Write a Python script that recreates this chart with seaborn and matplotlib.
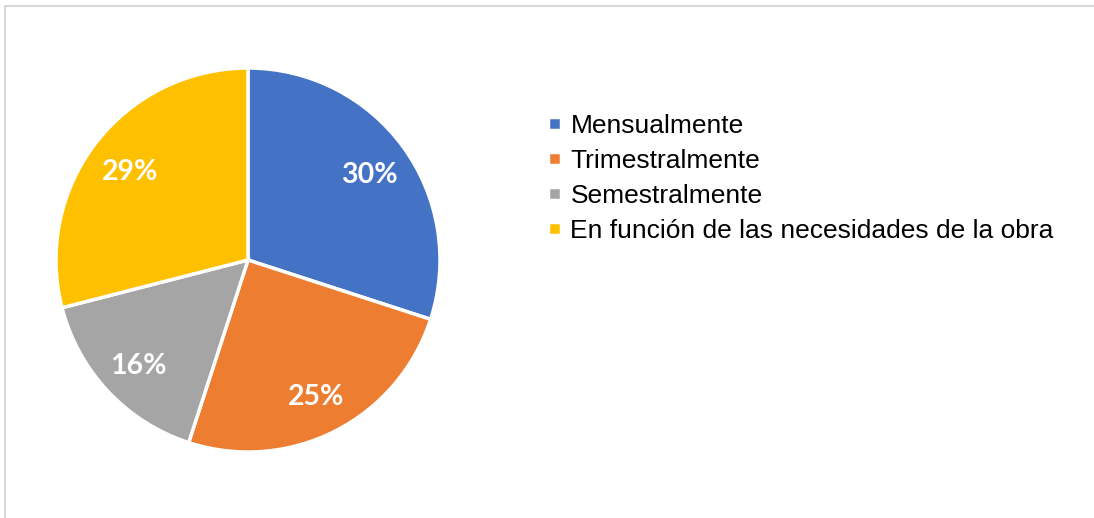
import matplotlib
matplotlib.use("Agg")
import matplotlib.pyplot as plt
import matplotlib.transforms as mtransforms
from matplotlib.lines import Line2D
import seaborn as sns

categorias = ["Mensualmente", "Trimestralmente", "Semestralmente",
              "En función de las necesidades de la obra"]
porcentajes = [30, 25, 16, 29]
colores = ["#4472C4", "#ED7D31", "#A5A5A5", "#FFC000"]

sns.set_theme(style="white")
plt.rcParams["font.family"] = ["Liberation Sans", "DejaVu Sans"]
palette = sns.color_palette(colores)

W, H = 1094, 518
fig = plt.figure(figsize=(W / 100, H / 100), dpi=100)
fig.patch.set_facecolor("white")

# chart area border (top and left only visible)
fig.add_artist(Line2D([5 / W, 1], [1 - 6 / H, 1 - 6 / H], color="#d9d9d9", lw=1.5))
fig.add_artist(Line2D([5 / W, 5 / W], [0, 1 - 6 / H], color="#d9d9d9", lw=1.5))

cx, cy, r = 248, 260, 192
ax = fig.add_axes([(cx - r) / W, (H - cy - r) / H, 2 * r / W, 2 * r / H])
wedges, texts, autotexts = ax.pie(
    porcentajes, colors=palette, startangle=90, counterclock=False,
    autopct="%d%%", pctdistance=0.78,
    wedgeprops=dict(edgecolor="white", linewidth=2.5),
    textprops=dict(color="white", fontsize=20.5, fontweight="bold", family="Lato"),
)
# nudge labels down a little
shift = mtransforms.ScaledTranslation(0, -3.5 / 100, fig.dpi_scale_trans)
for t in autotexts:
    t.set_transform(t.get_transform() + shift)
ax.set_xlim(-1, 1)
ax.set_ylim(-1, 1)
ax.set_aspect("equal")

leg = fig.legend(wedges, categorias, loc="upper left",
                 bbox_to_anchor=(548 / W, 1 - 114 / H), frameon=False,
                 fontsize=19, handlelength=0.5, handleheight=0.36,
                 handletextpad=0.35, labelspacing=0.42, borderpad=0, borderaxespad=0)
for t in leg.get_texts():
    t.set_color("black")

fig.savefig("out.png", dpi=100)
